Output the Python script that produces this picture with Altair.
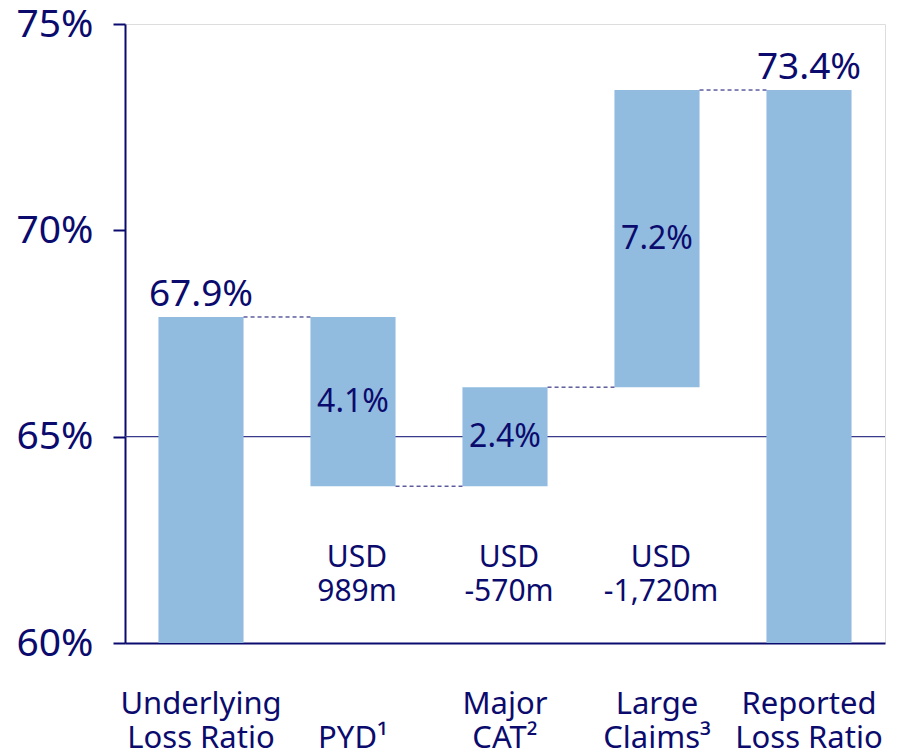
import altair as alt
import pandas as pd

categories = ["Underlying|Loss Ratio", "|PYD¹", "Major|CAT²", "Large|Claims³", "Reported|Loss Ratio"]
bar_start = [0.0, 67.9, 63.8, 66.2, 0.0]
bar_end = [67.9, 63.8, 66.2, 73.4, 73.4]
value_labels = ["67.9%", "4.1%", "2.4%", "7.2%", "73.4%"]
is_total = [True, False, False, False, True]
usd_labels = ["", "USD|989m", "USD|-570m", "USD|-1,720m", ""]
y_ticks = [60, 65, 70, 75]

NAVY = "#0b0b6e"
BAR = "#92bbe0"
FONT = "Noto Sans"

df = pd.DataFrame({
    "cat": categories,
    "start": bar_start,
    "end": bar_end,
    "label": value_labels,
    "total": is_total,
    "usd": usd_labels,
})
df["mid"] = (df["start"] + df["end"]) / 2
df["top"] = df[["start", "end"]].max(axis=1)

conn = pd.DataFrame({
    "cat": categories[:-1],
    "next": categories[1:],
    "level": bar_end[:-1],
})

xscale = alt.Scale(domain=categories, paddingInner=0.44, paddingOuter=0.22)
yscale = alt.Scale(domain=[60, 75], nice=False, zero=False)

x_enc = alt.X(
    "cat:N", sort=categories, scale=xscale, title=None,
    axis=alt.Axis(
        labelExpr="split(datum.label, '|')",
        labelFontSize=31, labelColor=NAVY, labelFont=FONT,
        labelLineHeight=34, labelPadding=46, labelAngle=0,
        ticks=False, domainColor=NAVY, domainWidth=2,
        labelBaseline="top",
    ),
)
y_enc = alt.Y(
    "start:Q", scale=yscale, title=None,
    axis=alt.Axis(
        values=y_ticks, labelExpr="datum.value + '%'",
        labelFontSize=39, labelColor=NAVY, labelFont=FONT,
        labelPadding=20, tickSize=12, tickColor=NAVY, tickWidth=2,
        domainColor=NAVY, domainWidth=2, grid=False,
    ),
)

base = alt.Chart(df)

grid65 = alt.Chart(pd.DataFrame({"g": [65]})).mark_rule(
    color="#3a3a8c", strokeWidth=1.2
).encode(y=alt.Y("g:Q", scale=yscale))

bars = base.mark_bar(color=BAR, clip=True).encode(
    x=x_enc, y=y_enc, y2="end:Q"
)

connectors = alt.Chart(conn).mark_rule(
    color=NAVY, strokeWidth=1, strokeDash=[4, 3]
).encode(
    x=alt.X("cat:N", sort=categories, scale=xscale, bandPosition=1),
    x2=alt.X2("next:N", bandPosition=0),
    y=alt.Y("level:Q", scale=yscale),
)

total_text = base.transform_filter("datum.total").mark_text(
    baseline="bottom", dy=-3, fontSize=37, font=FONT, color=NAVY
).encode(
    x=alt.X("cat:N", sort=categories, scale=xscale, bandPosition=0.5),
    y=alt.Y("top:Q", scale=yscale),
    text="label:N",
)

step_text = base.transform_filter("!datum.total").mark_text(
    baseline="middle", fontSize=32, font=FONT, color=NAVY
).encode(
    x=alt.X("cat:N", sort=categories, scale=xscale, bandPosition=0.5),
    y=alt.Y("mid:Q", scale=yscale),
    text="label:N",
)

usd_text = base.transform_filter("datum.usd != ''").mark_text(
    baseline="middle", fontSize=30, font=FONT, color=NAVY,
    lineBreak="|", lineHeight=34, dx=4
).encode(
    x=alt.X("cat:N", sort=categories, scale=xscale, bandPosition=0.5),
    y=alt.datum(62.05),
    text="usd:N",
)

chart = alt.layer(grid65, bars, connectors, total_text, step_text, usd_text).properties(
    width=760, height=619,
    autosize=alt.AutoSizeParams(type="none"),
    padding={"left": 117, "top": 16, "right": 4, "bottom": 105},
).configure_view(stroke=None).configure(background="white")

chart.save("out.html", embed_options={"renderer": "svg", "actions": False})
